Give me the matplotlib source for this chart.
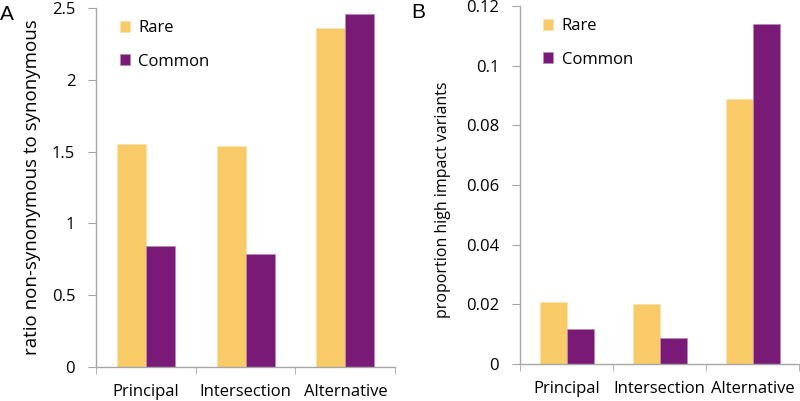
import numpy as np
import matplotlib
matplotlib.use("Agg")
import matplotlib.pyplot as plt

plt.rcParams['font.family'] = ['Open Sans', 'DejaVu Sans']

categories = ['Principal', 'Intersection', 'Alternative']
series = ['Rare', 'Common']
ratio_rare = [1.55, 1.54, 2.36]
ratio_common = [0.84, 0.79, 2.46]
prop_rare = [0.0207, 0.0200, 0.089]
prop_common = [0.0117, 0.0089, 0.114]

col_rare = '#F9CB68'
col_common = '#7A1A77'
grey = '#A6A6A6'

fig = plt.figure(figsize=(8, 4.01), dpi=100)
axA = fig.add_axes([0.12, 0.085, 0.374, 0.895])
axB = fig.add_axes([0.65, 0.092, 0.349, 0.893])

x = np.arange(len(categories))
w = 0.29


def style(ax, rare, common, ylim, yticks, ylabels, ylabel, labfs, labpad):
    ax.bar(x - w / 2, rare, w, color=col_rare, edgecolor='#FBE3B0', linewidth=0.6, label=series[0])
    ax.bar(x + w / 2, common, w, color=col_common, edgecolor='#B98AB7', linewidth=0.6, label=series[1])
    ax.set_xlim(-0.5, 2.5)
    ax.set_ylim(*ylim)
    ax.set_yticks(yticks)
    ax.set_yticklabels(ylabels, fontsize=12)
    ax.set_xticks(x)
    ax.set_xticklabels(categories, fontsize=12)
    ax.set_xticks([-0.5, 0.5, 1.5, 2.5], minor=True)
    ax.tick_params(axis='x', which='major', length=0, pad=12)
    ax.tick_params(axis='x', which='minor', length=5, color=grey, direction='out')
    ax.tick_params(axis='y', length=6, color=grey, direction='out', pad=9)
    for s in ['top', 'right']:
        ax.spines[s].set_visible(False)
    for s in ['left', 'bottom']:
        ax.spines[s].set_color(grey)
        ax.spines[s].set_linewidth(1)
    ax.set_ylabel(ylabel, fontsize=labfs, labelpad=labpad)
    ax.legend(loc='upper left', bbox_to_anchor=(0.03, 1.008), frameon=False, fontsize=12,
              handlelength=0.6, handleheight=0.6, handletextpad=0.5, labelspacing=1.05)


style(axA, ratio_rare, ratio_common, (0, 2.5), [0, 0.5, 1, 1.5, 2, 2.5],
      ['0', '0.5', '1', '1.5', '2', '2.5'], 'ratio non-synonymous to synonymous', 13.5, 8)
style(axB, prop_rare, prop_common, (0, 0.12), [0, 0.02, 0.04, 0.06, 0.08, 0.1, 0.12],
      ['0', '0.02', '0.04', '0.06', '0.08', '0.1', '0.12'], 'proportion high impact variants', 11.5, 11)
axB.yaxis.label.set_y(0.46)

fig.text(0.0, 0.95, 'A', fontsize=15, family='Liberation Sans')
fig.text(0.514, 0.955, 'B', fontsize=15, family='Liberation Sans')

fig.savefig('out.png', dpi=100)
